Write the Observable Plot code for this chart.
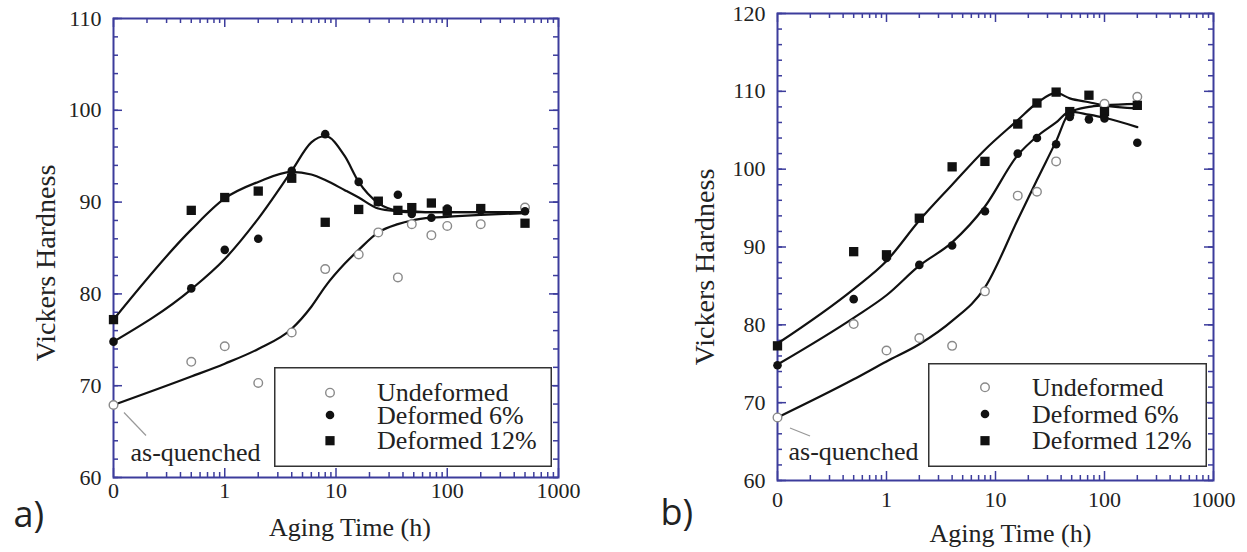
<!DOCTYPE html>
<html><head><meta charset="utf-8">
<script src="https://cdn.jsdelivr.net/npm/d3@7"></script>
<script src="https://cdn.jsdelivr.net/npm/@observablehq/plot@0.6"></script>
<style>
html,body{margin:0;padding:0;background:#fff;}
#wrap{position:relative;width:1247px;height:552px;overflow:hidden;}
.panel{position:absolute;top:0;}
.legend{position:absolute;}
#wrap svg text{font-family:"Liberation Serif","Times New Roman","DejaVu Serif",serif;}
#wrap svg text.tag{font-family:"Open Sans",sans-serif;}
</style></head><body><div id="wrap"></div>
<script>
// ---------- data ----------
const seriesNames = ["Undeformed", "Deformed 6%", "Deformed 12%"];
const xTickValues = [0, 1, 10, 100, 1000];
const xTickLabels = ["0", "1", "10", "100", "1000"];

// panel a
const timesA  = [0, 0.5, 1, 2, 4, 8, 16, 24, 36, 48, 72, 100, 200, 500];
const undefA  = [67.9, 72.6, 74.3, 70.3, 75.8, 82.7, 84.3, 86.7, 81.8, 87.6, 86.4, 87.4, 87.6, 89.4];
const def6A   = [74.8, 80.6, 84.8, 86.0, 93.4, 97.4, 92.2, 90.0, 90.8, 88.7, 88.3, 89.3, 89.1, 89.0];
const def12A  = [77.2, 89.1, 90.5, 91.2, 92.6, 87.8, 89.2, 90.1, 89.1, 89.4, 89.9, 89.0, 89.3, 87.7];
const fitTimesA = [0, 0.5, 1, 2, 4, 6, 8, 12, 16, 24, 36, 48, 72, 100, 200, 500];
const fitUndefA = [67.9, 71.0, 72.4, 74.0, 76.2, 78.6, 80.8, 83.3, 84.8, 86.7, 87.6, 88.0, 88.3, 88.4, 88.6, 88.8];
const fitDef6A  = [74.8, 80.5, 83.8, 88.2, 93.4, 96.5, 97.2, 95.0, 92.2, 89.9, 89.1, 89.0, 88.9, 88.9, 88.9, 88.9];
const fitDef12A = [77.2, 87.0, 90.4, 92.2, 93.3, 93.0, 92.4, 91.3, 90.5, 89.3, 89.0, 88.9, 88.9, 88.9, 88.9, 88.9];
const yTicksA = [60, 70, 80, 90, 100, 110];

// panel b
const timesB  = [0, 0.5, 1, 2, 4, 8, 16, 24, 36, 48, 72, 100, 200];
const undefB  = [68.1, 80.1, 76.7, 78.3, 77.3, 84.3, 96.6, 97.1, 101.0, null, null, 108.4, 109.3];
const def6B   = [74.8, 83.3, 88.6, 87.7, 90.2, 94.6, 102.0, 104.0, 103.2, 106.7, 106.4, 106.5, 103.4];
const def12B  = [77.3, 89.4, 89.0, 93.7, 100.3, 101.0, 105.8, 108.5, 109.9, 107.4, 109.5, 107.4, 108.2];
const fitTimesB = [0, 0.5, 1, 2, 4, 8, 16, 24, 36, 48, 72, 100, 200];
const fitUndefB = [68.1, 73.0, 75.3, 77.5, 80.5, 84.8, 93.5, 98.6, 103.6, 107.3, 108.0, 108.2, 108.4];
const fitDef6B  = [74.9, 80.9, 83.8, 87.6, 90.6, 95.2, 101.8, 104.2, 106.0, 107.4, 107.0, 106.6, 105.4];
const fitDef12B = [77.6, 84.6, 88.2, 93.4, 98.0, 102.5, 106.3, 108.5, 109.8, 109.1, 108.6, 108.2, 107.8];
const yTicksB = [60, 70, 80, 90, 100, 110, 120];

// ---------- drawing ----------
const BLUE = "#3c3c9c";
const SERIF = "Liberation Serif";
const tx = t => (t === 0 ? 0.1 : t); // time 0 drawn at the left end of the log axis
const xMajor = xTickValues.map(tx);
const xMinor = [];
[0.1, 1, 10, 100].forEach(b => { for (let m = 2; m <= 9; m++) xMinor.push(m * b); });

function build(cfg) {
  const iw = cfg.width - cfg.ml - cfg.mr, ih = cfg.height - cfg.mt - cfg.mb;
  const yMinor = d3.range(cfg.yDomain[0], cfg.yDomain[1] + 0.001, 2);
  const pts = [], fits = [];
  seriesNames.forEach((s, k) => {
    cfg.values[k].forEach((v, i) => { if (v != null) pts.push({s, t: tx(cfg.times[i]), v}); });
    cfg.fits[k].forEach((v, i) => fits.push({s, t: tx(cfg.fitTimes[i]), v}));
  });
  const tickStyle = {stroke: BLUE, strokeWidth: 1.5};
  const chart = Plot.plot({
    width: cfg.width, height: cfg.height,
    marginLeft: cfg.ml, marginRight: cfg.mr, marginTop: cfg.mt, marginBottom: cfg.mb,
    style: {fontFamily: SERIF, color: "#222", background: "transparent", overflow: "visible"},
    x: {type: "log", domain: [0.1, 1000]},
    y: {domain: cfg.yDomain},
    marks: [
      Plot.ruleX(xMinor, {...tickStyle, insetTop: ih - 5}),
      Plot.ruleX(xMinor, {...tickStyle, insetBottom: ih - 5}),
      Plot.ruleX(xMajor, {...tickStyle, insetTop: ih - 9}),
      Plot.ruleX(xMajor, {...tickStyle, insetBottom: ih - 9}),
      Plot.ruleY(yMinor, {...tickStyle, insetRight: iw - 5}),
      Plot.ruleY(yMinor, {...tickStyle, insetLeft: iw - 5}),
      Plot.ruleY(cfg.yTicks, {...tickStyle, insetRight: iw - 9}),
      Plot.ruleY(cfg.yTicks, {...tickStyle, insetLeft: iw - 9}),
      Plot.frame({stroke: BLUE, strokeWidth: 2}),
      Plot.axisX({ticks: xMajor, tickSize: 0, tickPadding: cfg.xPad, fontSize: 22,
        tickFormat: d => xTickLabels[xMajor.indexOf(d)], label: null}),
      Plot.axisY({ticks: cfg.yTicks, tickSize: 0, tickPadding: 12, fontSize: 22, label: null}),
      Plot.line(fits, {x: "t", y: "v", z: "s", curve: "monotone-x", stroke: "#111", strokeWidth: 2.2}),
      Plot.dot(pts.filter(d => d.s === seriesNames[0]), {x: "t", y: "v", r: 4.3, stroke: "#8a8a8a", fill: "white", strokeWidth: 1.4}),
      Plot.dot(pts.filter(d => d.s === seriesNames[2]), {x: "t", y: "v", r: 5.25, symbol: "square", fill: "#111", stroke: "none"}),
      Plot.dot(pts.filter(d => d.s === seriesNames[1]), {x: "t", y: "v", r: 4.3, fill: "#111", stroke: "none"}),
      Plot.text(["Vickers Hardness"], {frameAnchor: "left", textAnchor: "middle", lineAnchor: "middle", rotate: -90, dx: cfg.yTitle[0], dy: cfg.yTitle[1], fontSize: cfg.yTitleSize, fill: "#222"}),
      Plot.text(["Aging Time (h)"], {frameAnchor: "bottom", textAnchor: "middle", dx: cfg.xTitle[0], dy: cfg.xTitle[1], fontSize: 26, lineAnchor: "middle", fill: "#222"}),
      Plot.text([{t: tx(cfg.times[0]), v: cfg.values[0][0]}], {x: "t", y: "v", text: () => "as-quenched", textAnchor: "start", lineAnchor: "middle", dx: cfg.aq[0], dy: cfg.aq[1], fontSize: 26, fill: "#222"}),
      Plot.text([cfg.tag], {frameAnchor: "bottom-left", textAnchor: "start", lineAnchor: "middle", dx: cfg.tagPos[0], dy: cfg.tagPos[1], fontSize: 36, fill: "#222"})
    ]
  });
  d3.select(chart).selectAll("text").filter(function () { return this.textContent === cfg.tag; }).attr("class", "tag");
  // leader line of the "as-quenched" note, anchored on the first undeformed point
  const px = chart.scale("x").apply(tx(cfg.times[0])), py = chart.scale("y").apply(cfg.values[0][0]);
  d3.select(chart).append("line")
    .attr("x1", px + cfg.leader[0]).attr("y1", py + cfg.leader[1])
    .attr("x2", px + cfg.leader[2]).attr("y2", py + cfg.leader[3])
    .attr("stroke", "#999").attr("stroke-width", 1.2);
  return chart;
}

function legend(box) {
  const svg = d3.create("svg").attr("class", "legend").attr("width", box.w).attr("height", box.h)
    .style("left", box.x + "px").style("top", box.y + "px");
  svg.append("rect").attr("x", 0.75).attr("y", 0.75).attr("width", box.w - 1.5).attr("height", box.h - 1.5)
    .attr("fill", "white").attr("stroke", "#333").attr("stroke-width", 1.5);
  seriesNames.forEach((name, i) => {
    const cy = box.rows[i];
    if (i === 0) svg.append("circle").attr("cx", box.mx).attr("cy", cy).attr("r", 4.3).attr("fill", "white").attr("stroke", "#8a8a8a").attr("stroke-width", 1.4);
    if (i === 1) svg.append("circle").attr("cx", box.mx).attr("cy", cy).attr("r", 4.3).attr("fill", "#111");
    if (i === 2) svg.append("rect").attr("x", box.mx - 4.6).attr("y", cy - 4.6).attr("width", 9.2).attr("height", 9.2).attr("fill", "#111");
    svg.append("text").attr("x", box.tx).attr("y", cy).attr("dy", "0.33em")
      .attr("font-size", 26).attr("fill", "#222").text(name);
  });
  return svg.node();
}

const wrap = document.getElementById("wrap");
const a = build({
  width: 620, height: 552, ml: 113, mr: 62, mt: 18, mb: 75,
  yDomain: [60, 110], yTicks: yTicksA, xPad: 5,
  times: timesA, values: [undefA, def6A, def12A],
  fitTimes: fitTimesA, fits: [fitUndefA, fitDef6A, fitDef12A],
  yTitle: [-67, 15], yTitleSize: 28, xTitle: [14, 50],
  aq: [17, 48], leader: [11, 8, 33, 31],
  tag: "a)", tagPos: [-100, 38]
});
const pa = document.createElement("div"); pa.className = "panel"; pa.style.left = "0px"; pa.appendChild(a); wrap.appendChild(pa);
const b = build({
  width: 627, height: 552, ml: 157, mr: 34, mt: 13, mb: 72,
  yDomain: [60, 120], yTicks: yTicksB, xPad: 11,
  times: timesB, values: [undefB, def6B, def12B],
  fitTimes: fitTimesB, fits: [fitUndefB, fitDef6B, fitDef12B],
  yTitle: [-72, 20], yTitleSize: 28, xTitle: [15, 53],
  aq: [11, 34], leader: [13, 11, 33, 19],
  tag: "b)", tagPos: [-117, 33]
});
const pb = document.createElement("div"); pb.className = "panel"; pb.style.left = "620px"; pb.appendChild(b); wrap.appendChild(pb);

wrap.appendChild(legend({x: 274, y: 367, w: 278, h: 100, mx: 56, tx: 103, rows: [25.7, 48, 73.7]}));
wrap.appendChild(legend({x: 928, y: 363, w: 279, h: 104, mx: 57, tx: 104, rows: [24.3, 51, 77.7]}));
</script></body></html>
